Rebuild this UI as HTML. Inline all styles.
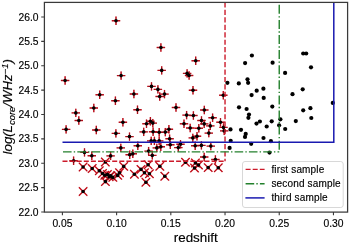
<!DOCTYPE html>
<html><head><meta charset="utf-8"><style>
html,body{margin:0;padding:0;background:#fff;}
body{width:350px;height:244px;overflow:hidden;}
svg{display:block;will-change:transform;}
text{font-family:"Liberation Sans",sans-serif;stroke:#000;stroke-width:0.15px;}
</style></head><body>
<svg width="350" height="244" viewBox="0 0 350 244">
<rect width="350" height="244" fill="#fff"/>
<path d="M111.8 20.7H120.2M116.0 16.5V24.9M156.7 47.5H165.1M160.9 43.3V51.7M191.5 60.8H199.9M195.7 56.6V65.0M157.5 70.4H165.9M161.7 66.2V74.6M182.9 73.4H191.3M187.1 69.2V77.6M184.9 75.5H193.3M189.1 71.3V79.7M116.9 75.6H125.3M121.1 71.4V79.8M60.9 80.5H69.3M65.1 76.3V84.7M147.3 86.4H155.7M151.5 82.2V90.6M153.7 89.4H162.1M157.9 85.2V93.6M188.8 90.2H197.2M193.0 86.0V94.4M129.7 94.0H138.1M133.9 89.8V98.2M160.3 94.1H168.7M164.5 89.9V98.3M95.5 94.8H103.9M99.7 90.6V99.0M219.1 95.2H227.5M223.3 91.0V99.4M155.5 96.5H163.9M159.7 92.3V100.7M111.2 100.7H119.6M115.4 96.5V104.9M171.8 107.5H180.2M176.0 103.3V111.7M89.6 108.0H98.0M93.8 103.8V112.2M133.3 109.8H141.7M137.5 105.6V114.0M200.1 110.0H208.5M204.3 105.8V114.2M71.6 112.9H80.0M75.8 108.7V117.1M182.4 115.1H190.8M186.6 110.9V119.3M189.2 115.5H197.6M193.4 111.3V119.7M208.4 117.7H216.8M212.6 113.5V121.9M74.6 120.5H83.0M78.8 116.3V124.7M197.3 120.5H205.7M201.5 116.3V124.7M146.2 121.2H154.6M150.4 117.0V125.4M216.3 122.2H224.7M220.5 118.0V126.4M118.7 122.3H127.1M122.9 118.1V126.5M148.6 123.1H157.0M152.8 118.9V127.3M142.3 123.7H150.7M146.5 119.5V127.9M179.8 123.8H188.2M184.0 119.6V128.0M200.0 123.9H208.4M204.2 119.7V128.1M206.1 125.9H214.5M210.3 121.7V130.1M219.3 127.4H227.7M223.5 123.2V131.6M186.0 128.0H194.4M190.2 123.8V132.2M194.6 128.3H203.0M198.8 124.1V132.5M61.9 129.4H70.3M66.1 125.2V133.6M164.7 129.3H173.1M168.9 125.1V133.5M92.1 130.0H100.5M96.3 125.8V134.2M220.0 130.9H228.4M224.2 126.7V135.1M139.5 131.9H147.9M143.7 127.7V136.1M148.9 131.8H157.3M153.1 127.6V136.0M161.1 132.1H169.5M165.3 127.9V136.3M155.0 132.3H163.4M159.2 128.1V136.5M204.6 133.1H213.0M208.8 128.9V137.3M111.7 133.4H120.1M115.9 129.2V137.6M125.3 136.6H133.7M129.5 132.4V140.8M192.8 136.2H201.2M197.0 132.0V140.4M188.6 137.9H197.0M192.8 133.7V142.1M165.4 138.7H173.8M169.6 134.5V142.9M147.0 140.9H155.4M151.2 136.7V145.1M150.2 140.9H158.6M154.4 136.7V145.1M155.0 140.9H163.4M159.2 136.7V145.1M176.3 144.3H184.7M180.5 140.1V148.5M166.1 144.8H174.5M170.3 140.6V149.0M191.0 145.7H199.4M195.2 141.5V149.9M197.2 145.4H205.6M201.4 141.2V149.6M206.6 146.1H215.0M210.8 141.9V150.3M156.6 146.8H165.0M160.8 142.6V151.0M152.6 147.9H161.0M156.8 143.7V152.1M174.1 147.6H182.5M178.3 143.4V151.8M116.6 147.9H125.0M120.8 143.7V152.1M144.4 151.1H152.8M148.6 146.9V155.3M80.3 152.4H88.7M84.5 148.2V156.6M148.1 155.4H156.5M152.3 151.2V159.6M125.5 154.7H133.9M129.7 150.5V158.9M106.4 155.9H114.8M110.6 151.7V160.1M87.6 155.7H96.0M91.8 151.5V159.9M200.0 157.0H208.4M204.2 152.8V161.2M211.2 159.5H219.6M215.4 155.3V163.7M69.4 160.7H77.8M73.6 156.5V164.9M133.6 145.7H142.0M137.8 141.5V149.9M128.6 153.8H137.0M132.8 149.6V158.0" stroke="#dc1a26" stroke-width="1.4" fill="none"/>
<path d="M111.8 20.7H120.2M116.0 16.5V24.9M156.7 47.5H165.1M160.9 43.3V51.7M191.5 60.8H199.9M195.7 56.6V65.0M157.5 70.4H165.9M161.7 66.2V74.6M182.9 73.4H191.3M187.1 69.2V77.6M184.9 75.5H193.3M189.1 71.3V79.7M116.9 75.6H125.3M121.1 71.4V79.8M60.9 80.5H69.3M65.1 76.3V84.7M147.3 86.4H155.7M151.5 82.2V90.6M153.7 89.4H162.1M157.9 85.2V93.6M188.8 90.2H197.2M193.0 86.0V94.4M129.7 94.0H138.1M133.9 89.8V98.2M160.3 94.1H168.7M164.5 89.9V98.3M95.5 94.8H103.9M99.7 90.6V99.0M219.1 95.2H227.5M223.3 91.0V99.4M155.5 96.5H163.9M159.7 92.3V100.7M111.2 100.7H119.6M115.4 96.5V104.9M171.8 107.5H180.2M176.0 103.3V111.7M89.6 108.0H98.0M93.8 103.8V112.2M133.3 109.8H141.7M137.5 105.6V114.0M200.1 110.0H208.5M204.3 105.8V114.2M71.6 112.9H80.0M75.8 108.7V117.1M182.4 115.1H190.8M186.6 110.9V119.3M189.2 115.5H197.6M193.4 111.3V119.7M208.4 117.7H216.8M212.6 113.5V121.9M74.6 120.5H83.0M78.8 116.3V124.7M197.3 120.5H205.7M201.5 116.3V124.7M146.2 121.2H154.6M150.4 117.0V125.4M216.3 122.2H224.7M220.5 118.0V126.4M118.7 122.3H127.1M122.9 118.1V126.5M148.6 123.1H157.0M152.8 118.9V127.3M142.3 123.7H150.7M146.5 119.5V127.9M179.8 123.8H188.2M184.0 119.6V128.0M200.0 123.9H208.4M204.2 119.7V128.1M206.1 125.9H214.5M210.3 121.7V130.1M219.3 127.4H227.7M223.5 123.2V131.6M186.0 128.0H194.4M190.2 123.8V132.2M194.6 128.3H203.0M198.8 124.1V132.5M61.9 129.4H70.3M66.1 125.2V133.6M164.7 129.3H173.1M168.9 125.1V133.5M92.1 130.0H100.5M96.3 125.8V134.2M220.0 130.9H228.4M224.2 126.7V135.1M139.5 131.9H147.9M143.7 127.7V136.1M148.9 131.8H157.3M153.1 127.6V136.0M161.1 132.1H169.5M165.3 127.9V136.3M155.0 132.3H163.4M159.2 128.1V136.5M204.6 133.1H213.0M208.8 128.9V137.3M111.7 133.4H120.1M115.9 129.2V137.6M125.3 136.6H133.7M129.5 132.4V140.8M192.8 136.2H201.2M197.0 132.0V140.4M188.6 137.9H197.0M192.8 133.7V142.1M165.4 138.7H173.8M169.6 134.5V142.9M147.0 140.9H155.4M151.2 136.7V145.1M150.2 140.9H158.6M154.4 136.7V145.1M155.0 140.9H163.4M159.2 136.7V145.1M176.3 144.3H184.7M180.5 140.1V148.5M166.1 144.8H174.5M170.3 140.6V149.0M191.0 145.7H199.4M195.2 141.5V149.9M197.2 145.4H205.6M201.4 141.2V149.6M206.6 146.1H215.0M210.8 141.9V150.3M156.6 146.8H165.0M160.8 142.6V151.0M152.6 147.9H161.0M156.8 143.7V152.1M174.1 147.6H182.5M178.3 143.4V151.8M116.6 147.9H125.0M120.8 143.7V152.1M144.4 151.1H152.8M148.6 146.9V155.3M80.3 152.4H88.7M84.5 148.2V156.6M148.1 155.4H156.5M152.3 151.2V159.6M125.5 154.7H133.9M129.7 150.5V158.9M106.4 155.9H114.8M110.6 151.7V160.1M87.6 155.7H96.0M91.8 151.5V159.9M200.0 157.0H208.4M204.2 152.8V161.2M211.2 159.5H219.6M215.4 155.3V163.7M69.4 160.7H77.8M73.6 156.5V164.9M133.6 145.7H142.0M137.8 141.5V149.9M128.6 153.8H137.0M132.8 149.6V158.0" stroke="#7a0812" stroke-width="0.5" fill="none"/>
<path d="M101.1 157.8L109.5 166.2M101.1 166.2L109.5 157.8M78.9 162.8L87.3 171.2M78.9 171.2L87.3 162.8M88.0 164.3L96.4 172.7M88.0 172.7L96.4 164.3M95.1 166.6L103.5 175.0M95.1 175.0L103.5 166.6M98.3 169.3L106.7 177.7M98.3 177.7L106.7 169.3M103.2 170.3L111.6 178.7M103.2 178.7L111.6 170.3M106.5 171.6L114.9 180.0M106.5 180.0L114.9 171.6M101.2 177.4L109.6 185.8M101.2 185.8L109.6 177.4M78.9 187.3L87.3 195.7M78.9 195.7L87.3 187.3M115.3 168.5L123.7 176.9M115.3 176.9L123.7 168.5M113.5 171.2L121.9 179.6M113.5 179.6L121.9 171.2M119.5 162.2L127.9 170.6M119.5 170.6L127.9 162.2M130.2 170.0L138.6 178.4M130.2 178.4L138.6 170.0M136.8 165.2L145.2 173.6M136.8 173.6L145.2 165.2M140.3 168.5L148.7 176.9M140.3 176.9L148.7 168.5M145.2 169.6L153.6 178.0M145.2 178.0L153.6 169.6M141.7 178.0L150.1 186.4M141.7 186.4L150.1 178.0M143.9 160.6L152.3 169.0M143.9 169.0L152.3 160.6M155.6 162.1L164.0 170.5M155.6 170.5L164.0 162.1M160.6 172.1L169.0 180.5M160.6 180.5L169.0 172.1M181.3 158.0L189.7 166.4M181.3 166.4L189.7 158.0M191.2 158.8L199.6 167.2M191.2 167.2L199.6 158.8M194.3 160.8L202.7 169.2M194.3 169.2L202.7 160.8M190.3 163.8L198.7 172.2M190.3 172.2L198.7 163.8M204.0 163.4L212.4 171.8M204.0 171.8L212.4 163.4M214.1 163.6L222.5 172.0M214.1 172.0L222.5 163.6M100.6 171.0L109.0 179.4M100.6 179.4L109.0 171.0M105.0 172.6L113.4 181.0M105.0 181.0L113.4 172.6M108.6 173.2L117.0 181.6M108.6 181.6L117.0 173.2" stroke="#dc1a26" stroke-width="1.4" fill="none"/>
<path d="M101.1 157.8L109.5 166.2M101.1 166.2L109.5 157.8M78.9 162.8L87.3 171.2M78.9 171.2L87.3 162.8M88.0 164.3L96.4 172.7M88.0 172.7L96.4 164.3M95.1 166.6L103.5 175.0M95.1 175.0L103.5 166.6M98.3 169.3L106.7 177.7M98.3 177.7L106.7 169.3M103.2 170.3L111.6 178.7M103.2 178.7L111.6 170.3M106.5 171.6L114.9 180.0M106.5 180.0L114.9 171.6M101.2 177.4L109.6 185.8M101.2 185.8L109.6 177.4M78.9 187.3L87.3 195.7M78.9 195.7L87.3 187.3M115.3 168.5L123.7 176.9M115.3 176.9L123.7 168.5M113.5 171.2L121.9 179.6M113.5 179.6L121.9 171.2M119.5 162.2L127.9 170.6M119.5 170.6L127.9 162.2M130.2 170.0L138.6 178.4M130.2 178.4L138.6 170.0M136.8 165.2L145.2 173.6M136.8 173.6L145.2 165.2M140.3 168.5L148.7 176.9M140.3 176.9L148.7 168.5M145.2 169.6L153.6 178.0M145.2 178.0L153.6 169.6M141.7 178.0L150.1 186.4M141.7 186.4L150.1 178.0M143.9 160.6L152.3 169.0M143.9 169.0L152.3 160.6M155.6 162.1L164.0 170.5M155.6 170.5L164.0 162.1M160.6 172.1L169.0 180.5M160.6 180.5L169.0 172.1M181.3 158.0L189.7 166.4M181.3 166.4L189.7 158.0M191.2 158.8L199.6 167.2M191.2 167.2L199.6 158.8M194.3 160.8L202.7 169.2M194.3 169.2L202.7 160.8M190.3 163.8L198.7 172.2M190.3 172.2L198.7 163.8M204.0 163.4L212.4 171.8M204.0 171.8L212.4 163.4M214.1 163.6L222.5 172.0M214.1 172.0L222.5 163.6M100.6 171.0L109.0 179.4M100.6 179.4L109.0 171.0M105.0 172.6L113.4 181.0M105.0 181.0L113.4 172.6M108.6 173.2L117.0 181.6M108.6 181.6L117.0 173.2" stroke="#7a0812" stroke-width="0.5" fill="none"/>
<g fill="#000"><circle cx="116.0" cy="20.7" r="1.8"/><circle cx="160.9" cy="47.5" r="1.8"/><circle cx="195.7" cy="60.8" r="1.8"/><circle cx="161.7" cy="70.4" r="1.8"/><circle cx="187.1" cy="73.4" r="1.8"/><circle cx="189.1" cy="75.5" r="1.8"/><circle cx="121.1" cy="75.6" r="1.8"/><circle cx="65.1" cy="80.5" r="1.8"/><circle cx="151.5" cy="86.4" r="1.8"/><circle cx="157.9" cy="89.4" r="1.8"/><circle cx="193.0" cy="90.2" r="1.8"/><circle cx="133.9" cy="94.0" r="1.8"/><circle cx="164.5" cy="94.1" r="1.8"/><circle cx="99.7" cy="94.8" r="1.8"/><circle cx="223.3" cy="95.2" r="1.8"/><circle cx="159.7" cy="96.5" r="1.8"/><circle cx="115.4" cy="100.7" r="1.8"/><circle cx="176.0" cy="107.5" r="1.8"/><circle cx="93.8" cy="108.0" r="1.8"/><circle cx="137.5" cy="109.8" r="1.8"/><circle cx="204.3" cy="110.0" r="1.8"/><circle cx="75.8" cy="112.9" r="1.8"/><circle cx="186.6" cy="115.1" r="1.8"/><circle cx="193.4" cy="115.5" r="1.8"/><circle cx="212.6" cy="117.7" r="1.8"/><circle cx="78.8" cy="120.5" r="1.8"/><circle cx="201.5" cy="120.5" r="1.8"/><circle cx="150.4" cy="121.2" r="1.8"/><circle cx="220.5" cy="122.2" r="1.8"/><circle cx="122.9" cy="122.3" r="1.8"/><circle cx="152.8" cy="123.1" r="1.8"/><circle cx="146.5" cy="123.7" r="1.8"/><circle cx="184.0" cy="123.8" r="1.8"/><circle cx="204.2" cy="123.9" r="1.8"/><circle cx="210.3" cy="125.9" r="1.8"/><circle cx="223.5" cy="127.4" r="1.8"/><circle cx="190.2" cy="128.0" r="1.8"/><circle cx="198.8" cy="128.3" r="1.8"/><circle cx="66.1" cy="129.4" r="1.8"/><circle cx="168.9" cy="129.3" r="1.8"/><circle cx="96.3" cy="130.0" r="1.8"/><circle cx="224.2" cy="130.9" r="1.8"/><circle cx="143.7" cy="131.9" r="1.8"/><circle cx="153.1" cy="131.8" r="1.8"/><circle cx="165.3" cy="132.1" r="1.8"/><circle cx="159.2" cy="132.3" r="1.8"/><circle cx="208.8" cy="133.1" r="1.8"/><circle cx="115.9" cy="133.4" r="1.8"/><circle cx="129.5" cy="136.6" r="1.8"/><circle cx="197.0" cy="136.2" r="1.8"/><circle cx="192.8" cy="137.9" r="1.8"/><circle cx="169.6" cy="138.7" r="1.8"/><circle cx="151.2" cy="140.9" r="1.8"/><circle cx="154.4" cy="140.9" r="1.8"/><circle cx="159.2" cy="140.9" r="1.8"/><circle cx="180.5" cy="144.3" r="1.8"/><circle cx="170.3" cy="144.8" r="1.8"/><circle cx="195.2" cy="145.7" r="1.8"/><circle cx="201.4" cy="145.4" r="1.8"/><circle cx="210.8" cy="146.1" r="1.8"/><circle cx="160.8" cy="146.8" r="1.8"/><circle cx="156.8" cy="147.9" r="1.8"/><circle cx="178.3" cy="147.6" r="1.8"/><circle cx="120.8" cy="147.9" r="1.8"/><circle cx="148.6" cy="151.1" r="1.8"/><circle cx="84.5" cy="152.4" r="1.8"/><circle cx="152.3" cy="155.4" r="1.8"/><circle cx="129.7" cy="154.7" r="1.8"/><circle cx="110.6" cy="155.9" r="1.8"/><circle cx="91.8" cy="155.7" r="1.8"/><circle cx="204.2" cy="157.0" r="1.8"/><circle cx="215.4" cy="159.5" r="1.8"/><circle cx="73.6" cy="160.7" r="1.8"/><circle cx="137.8" cy="145.7" r="1.8"/><circle cx="132.8" cy="153.8" r="1.8"/><circle cx="105.3" cy="162.0" r="1.8"/><circle cx="83.1" cy="167.0" r="1.8"/><circle cx="92.2" cy="168.5" r="1.8"/><circle cx="99.3" cy="170.8" r="1.8"/><circle cx="102.5" cy="173.5" r="1.8"/><circle cx="107.4" cy="174.5" r="1.8"/><circle cx="110.7" cy="175.8" r="1.8"/><circle cx="105.4" cy="181.6" r="1.8"/><circle cx="83.1" cy="191.5" r="1.8"/><circle cx="119.5" cy="172.7" r="1.8"/><circle cx="117.7" cy="175.4" r="1.8"/><circle cx="123.7" cy="166.4" r="1.8"/><circle cx="134.4" cy="174.2" r="1.8"/><circle cx="141.0" cy="169.4" r="1.8"/><circle cx="144.5" cy="172.7" r="1.8"/><circle cx="149.4" cy="173.8" r="1.8"/><circle cx="145.9" cy="182.2" r="1.8"/><circle cx="148.1" cy="164.8" r="1.8"/><circle cx="159.8" cy="166.3" r="1.8"/><circle cx="164.8" cy="176.3" r="1.8"/><circle cx="185.5" cy="162.2" r="1.8"/><circle cx="195.4" cy="163.0" r="1.8"/><circle cx="198.5" cy="165.0" r="1.8"/><circle cx="194.5" cy="168.0" r="1.8"/><circle cx="208.2" cy="167.6" r="1.8"/><circle cx="218.3" cy="167.8" r="1.8"/><circle cx="104.8" cy="175.2" r="1.8"/><circle cx="109.2" cy="176.8" r="1.8"/><circle cx="112.8" cy="177.4" r="1.8"/><circle cx="251.9" cy="55.5" r="2.1"/><circle cx="245.1" cy="63.1" r="2.1"/><circle cx="272.6" cy="62.7" r="2.1"/><circle cx="303.2" cy="53.5" r="2.1"/><circle cx="306.2" cy="53.5" r="2.1"/><circle cx="311.0" cy="67.3" r="2.1"/><circle cx="285.1" cy="72.9" r="2.1"/><circle cx="227.4" cy="82.8" r="2.1"/><circle cx="238.8" cy="83.4" r="2.1"/><circle cx="247.5" cy="79.3" r="2.1"/><circle cx="248.1" cy="82.8" r="2.1"/><circle cx="302.7" cy="89.3" r="2.1"/><circle cx="263.4" cy="88.7" r="2.1"/><circle cx="256.7" cy="90.7" r="2.1"/><circle cx="251.6" cy="95.1" r="2.1"/><circle cx="263.7" cy="97.9" r="2.1"/><circle cx="239.0" cy="107.3" r="2.1"/><circle cx="246.6" cy="109.0" r="2.1"/><circle cx="249.0" cy="114.5" r="2.1"/><circle cx="248.4" cy="117.8" r="2.1"/><circle cx="272.3" cy="106.6" r="2.1"/><circle cx="256.5" cy="123.6" r="2.1"/><circle cx="259.9" cy="121.5" r="2.1"/><circle cx="266.7" cy="126.5" r="2.1"/><circle cx="271.7" cy="121.3" r="2.1"/><circle cx="230.5" cy="129.4" r="2.1"/><circle cx="241.0" cy="129.8" r="2.1"/><circle cx="245.7" cy="133.9" r="2.1"/><circle cx="245.0" cy="136.9" r="2.1"/><circle cx="263.5" cy="138.0" r="2.1"/><circle cx="230.7" cy="140.8" r="2.1"/><circle cx="270.9" cy="141.2" r="2.1"/><circle cx="251.2" cy="143.8" r="2.1"/><circle cx="229.6" cy="147.9" r="2.1"/><circle cx="269.5" cy="152.6" r="2.1"/><circle cx="292.5" cy="94.2" r="2.1"/><circle cx="303.2" cy="110.3" r="2.1"/><circle cx="310.4" cy="108.2" r="2.1"/><circle cx="311.3" cy="118.0" r="2.1"/><circle cx="295.8" cy="121.1" r="2.1"/><circle cx="280.4" cy="119.3" r="2.1"/><circle cx="279.1" cy="125.3" r="2.1"/><circle cx="285.2" cy="129.0" r="2.1"/><circle cx="332.8" cy="102.9" r="2.1"/></g>
<g fill="none" stroke-width="1.4">
<path d="M225.03 2.4V161.25" stroke="#cc1a2a" stroke-dasharray="5.2 2.25" stroke-dashoffset="0"/>
<path d="M62.5 161.25H225.03" stroke="#cc1a2a" stroke-dasharray="5 2.1" stroke-dashoffset="0"/>
<path d="M279.24 2.4V151.9" stroke="#23802c" stroke-dasharray="9 2.35 1.4 2.35" stroke-dashoffset="12.7"/>
<path d="M62.5 151.9H279.24" stroke="#23802c" stroke-dasharray="8.6 2.15 1.4 2.15" stroke-dashoffset="13.8"/>
<path d="M333.80 2.4V142.35H62.5" stroke="#1a1ab0" stroke-width="1.5"/>
</g>
<rect x="44.4" y="2.4" width="303.20000000000005" height="209.7" fill="none" stroke="#3a3a3a" stroke-width="1.25"/>
<path d="M41.2 212.00H44.4M41.2 187.62H44.4M41.2 163.25H44.4M41.2 138.88H44.4M41.2 114.50H44.4M41.2 90.12H44.4M41.2 65.75H44.4M41.2 41.38H44.4M41.2 17.00H44.4M62.40 212.1V215.3M116.61 212.1V215.3M170.82 212.1V215.3M225.03 212.1V215.3M279.24 212.1V215.3M333.45 212.1V215.3" stroke="#3a3a3a" stroke-width="1.1" fill="none"/>
<g font-size="10.3" fill="#000">
<text x="38.5" y="215.60" text-anchor="end">22.0</text>
<text x="38.5" y="191.22" text-anchor="end">22.5</text>
<text x="38.5" y="166.85" text-anchor="end">23.0</text>
<text x="38.5" y="142.47" text-anchor="end">23.5</text>
<text x="38.5" y="118.10" text-anchor="end">24.0</text>
<text x="38.5" y="93.72" text-anchor="end">24.5</text>
<text x="38.5" y="69.35" text-anchor="end">25.0</text>
<text x="38.5" y="44.98" text-anchor="end">25.5</text>
<text x="38.5" y="20.60" text-anchor="end">26.0</text>
<text x="62.40" y="226.6" text-anchor="middle">0.05</text>
<text x="116.61" y="226.6" text-anchor="middle">0.10</text>
<text x="170.82" y="226.6" text-anchor="middle">0.15</text>
<text x="225.03" y="226.6" text-anchor="middle">0.20</text>
<text x="279.24" y="226.6" text-anchor="middle">0.25</text>
<text x="333.45" y="226.6" text-anchor="middle">0.30</text>
</g>
<text x="195.7" y="241.6" font-size="13.4" text-anchor="middle" fill="#000">redshift</text>
<text transform="translate(12.4,106.8) rotate(-90) scale(1.1,1)" font-size="12" font-style="italic" text-anchor="middle" fill="#000">log(L<tspan font-size="8.6" dy="2.2">core</tspan><tspan dy="-2.2">/WHz</tspan><tspan font-size="8.6" dy="-4.8">&#8722;1</tspan><tspan dy="4.8">)</tspan></text>
<rect x="242.5" y="161.5" width="100.7" height="46" rx="2.5" fill="#fff" fill-opacity="0.8" stroke="#d4d4d4" stroke-width="0.9"/>
<g fill="none" stroke-width="1.4">
<path d="M245.6 169.4H264.6" stroke="#cc1a2a" stroke-dasharray="5 2.1"/>
<path d="M245.6 183.8H264.6" stroke="#23802c" stroke-dasharray="8.6 2.15 1.4 2.15"/>
<path d="M245.4 197.9H264.6" stroke="#1a1ab0" stroke-width="1.5"/>
</g>
<g font-size="10" fill="#000" letter-spacing="0.16">
<text x="271.4" y="173">first sample</text>
<text x="271.4" y="187">second sample</text>
<text x="271.4" y="201.1">third sample</text>
</g>
</svg>
</body></html>
